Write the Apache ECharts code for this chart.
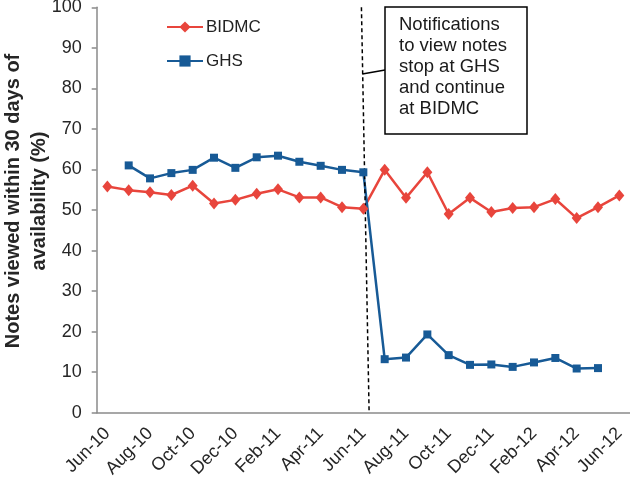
<!DOCTYPE html>
<html>
<head>
<meta charset="utf-8">
<script src="https://cdn.jsdelivr.net/npm/echarts@6/dist/echarts.min.js"></script>
<style>
html,body{margin:0;padding:0;background:#fff;}
#chart{width:630px;height:481px;}
</style>
</head>
<body>
<div id="chart"></div>
<script>
const months = ['Jun-10','Jul-10','Aug-10','Sep-10','Oct-10','Nov-10','Dec-10','Jan-11','Feb-11','Mar-11','Apr-11','May-11',
  'Jun-11','Jul-11','Aug-11','Sep-11','Oct-11','Nov-11','Dec-11','Jan-12','Feb-12','Mar-12','Apr-12','May-12','Jun-12'];
const bidmc = [55.8,54.9,54.4,53.7,56.0,51.6,52.5,54.0,55.1,53.1,53.1,50.7,50.3,
  59.9,53.0,59.3,49.0,53.0,49.5,50.5,50.7,52.7,48.0,50.7,53.6];
const ghs = [null,61.0,57.8,59.1,59.9,62.9,60.4,63.0,63.4,61.9,60.9,59.9,59.3,
  13.2,13.6,19.3,14.2,11.8,11.9,11.3,12.4,13.5,10.9,11.0,null];
const noteLine = [[12.41,100],[12.77,0]];
const noteText = ['Notifications','to view notes','stop at GHS','and continue','at BIDMC'];

const FONT = 'Arial, "Liberation Sans", sans-serif';
const chart = echarts.init(document.getElementById('chart'));
chart.setOption({
  animation:false,
  textStyle:{fontFamily:FONT},
  grid:{left:96.7,right:0,top:7.3,bottom:68.3,containLabel:false,outerBoundsMode:'none'},
  legend:{
    orient:'vertical', left:166, top:17, padding:0, itemWidth:36, itemHeight:14, itemGap:14,
    data:['BIDMC','GHS'],
    textStyle:{fontSize:17, color:'#222', fontFamily:FONT, lineHeight:20, padding:[0,0,0,-2]}
  },
  xAxis:[{
    type:'category', data:months, boundaryGap:true,
    axisLine:{lineStyle:{color:'#8a8a8a', width:1.5}},
    axisTick:{interval:1, length:5, lineStyle:{color:'#8a8a8a', width:1.5}},
    axisLabel:{interval:1, rotate:45, fontSize:18, color:'#262626', margin:18, fontFamily:FONT},
    splitLine:{show:false}
  },{
    type:'value', min:0, max:25, show:false
  }],
  yAxis:{
    type:'value', min:0, max:100, interval:10,
    axisLine:{show:true, lineStyle:{color:'#8a8a8a', width:1.5}},
    axisTick:{show:true, length:5, lineStyle:{color:'#8a8a8a', width:1.5}},
    axisLabel:{fontSize:18, color:'#262626', margin:15, fontFamily:FONT},
    splitLine:{show:false},
    name:'Notes viewed within 30 days of\navailability (%)',
    nameLocation:'middle', nameGap:44, nameMoveOverlap:false,
    nameTextStyle:{fontSize:20, fontWeight:'bold', color:'#262626', lineHeight:26, fontFamily:FONT, padding:[0,0,0,18]}
  },
  series:[{
    name:'BIDMC', type:'line', data:bidmc, xAxisIndex:0,
    symbol:'diamond', symbolSize:[10,12],
    lineStyle:{color:'#e8453c', width:2.5},
    itemStyle:{color:'#e8453c'}
  },{
    name:'GHS', type:'line', data:ghs, xAxisIndex:0,
    symbol:'rect', symbolSize:8,
    lineStyle:{color:'#175a96', width:2.5},
    itemStyle:{color:'#175a96'}
  },{
    name:'note', type:'line', xAxisIndex:1, data:noteLine,
    symbol:'none', silent:true,
    lineStyle:{color:'#000', width:1.5, type:[4,3]}
  }],
  graphic:[{
    type:'line', shape:{x1:362.3,y1:74,x2:385,y2:70},
    style:{stroke:'#000', lineWidth:1.5}
  },{
    type:'rect', shape:{x:385,y:7,width:142,height:127},
    style:{fill:'#fff', stroke:'#000', lineWidth:1.5}
  },{
    type:'text', left:399, top:15,
    style:{text:noteText.join('\n'), font:'18.5px ' + FONT, fill:'#1a1a1a', lineHeight:20.8}
  }]
});
</script>
</body>
</html>
